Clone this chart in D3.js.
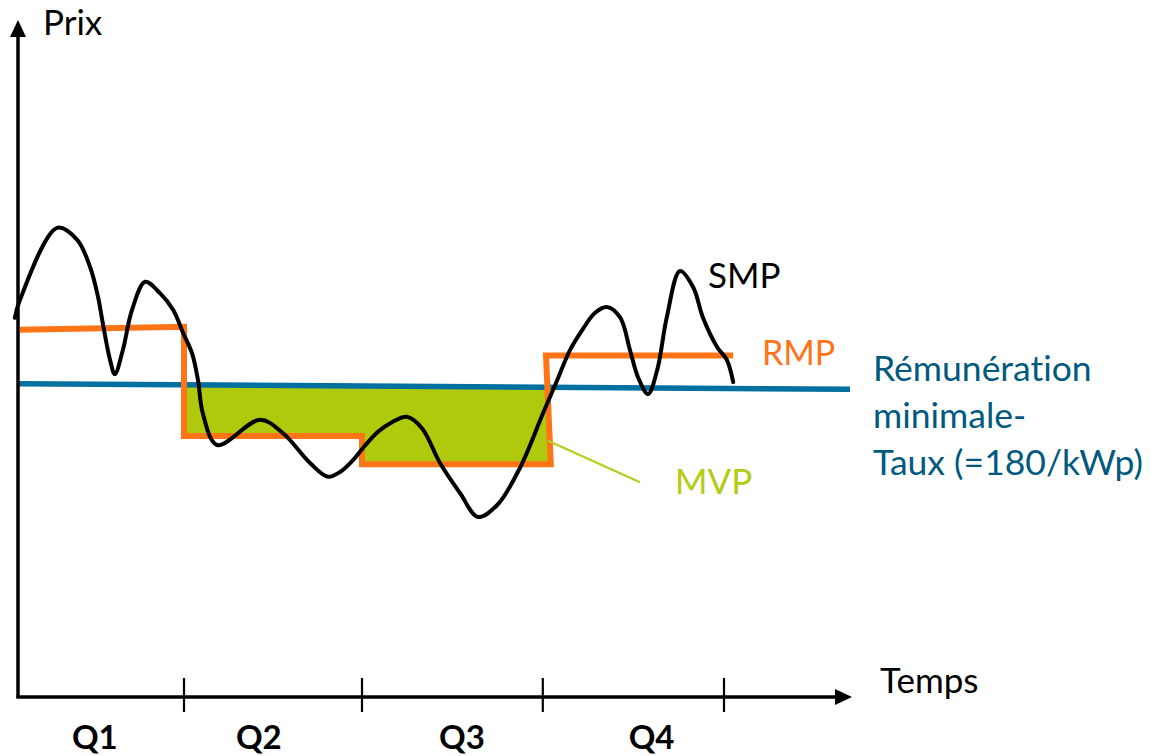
<!DOCTYPE html>
<html><head><meta charset="utf-8">
<script src="https://cdn.jsdelivr.net/npm/d3@7/dist/d3.min.js"></script>
<style>html,body{margin:0;padding:0;background:#fff;}svg{display:block;}text{font-variant-ligatures:none;font-feature-settings:"liga" 0;}</style>
</head><body>
<svg id="chart" width="1151" height="756"></svg>
<script>
// ---- data (time units 0..100, price units 0..100) ----
const quarters = ["Q1", "Q2", "Q3", "Q4"];
const quarterBounds = [0, 20.75, 43, 65.6, 88.25];
const quarterLabelTimes = [9.6, 30.1, 55.5, 79.2];

// SMP (spot market price) curve
const smpTimes  = [-0.4, 0.25, 4.9, 7.4, 9, 10, 10.6, 11.5, 12.1, 13.1, 14.25, 15.9, 17.75, 19.4, 20.6, 21.75, 22.5, 23.1, 24.9, 30.25, 33.1, 36.5, 38.75, 40.25, 41.75, 43.25, 45, 46.75, 48.6, 50.5, 52.75, 55.25, 57.5, 59.9, 62.75, 65.6, 67.4, 69, 70.6, 72.1, 73.6, 75.25, 76.5, 77.5, 78.75, 79.9, 81.1, 82.75, 84.4, 85.6, 87.4, 88.6, 89.4];
const smpValues = [63.2, 66.2, 78.2, 76.2, 71.7, 66.7, 62.3, 56.2, 53.8, 57.8, 64.5, 69.2, 67.3, 64.5, 60.8, 57.3, 52.8, 47.3, 42.0, 46.2, 44.0, 39.0, 36.7, 37.5, 39.3, 41.7, 44.2, 45.8, 46.7, 44.8, 39.0, 34.0, 30.0, 32.0, 38.2, 47.2, 52.8, 57.8, 61.3, 64.0, 65.0, 63.3, 57.8, 53.3, 50.5, 54.5, 63.3, 71.0, 68.3, 63.3, 58.3, 56.2, 52.5];

// RMP (reference market price) step line
const rmpTimes  = [0.25, 20.75, 20.75, 43, 43, 66.6, 66, 89.4];
const rmpValues = [61.2, 61.7, 43.5, 43.5, 38.8, 38.8, 56.9, 56.9];

// minimum remuneration rate line
const minTimes  = [0, 104];
const minValues = [52.2, 51.3];

// MVP area (between minimum rate and RMP)
const mvpTimes  = [20.75, 43, 43, 66.3];
const mvpLow    = [43.5, 43.5, 38.8, 38.8];

// ---- layout ----
const svg = d3.select("#chart");
const x = d3.scaleLinear().domain([0, 100]).range([18, 818]);
const y = d3.scaleLinear().domain([0, 100]).range([697, 97]);
const minAt = t => minValues[0] + (minValues[1] - minValues[0]) * (t - minTimes[0]) / (minTimes[1] - minTimes[0]);

const FONT = "Lato, 'Open Sans', sans-serif";
const COL_BLUE = "#0070a0", COL_ORANGE = "#ff7417", COL_GREEN = "#afc90c", COL_TEXT = "#00597e";

// MVP fill
const mvpData = mvpTimes.map((t, i) => ({t, lo: mvpLow[i], hi: minAt(t)}));
svg.append("path")
  .datum(mvpData)
  .attr("d", d3.area().x(d => x(d.t)).y0(d => y(d.lo)).y1(d => y(d.hi)))
  .attr("fill", COL_GREEN);

// minimum rate line
svg.append("path")
  .datum(minTimes.map((t, i) => [t, minValues[i]]))
  .attr("d", d3.line().x(d => x(d[0])).y(d => y(d[1])))
  .attr("stroke", COL_BLUE).attr("stroke-width", 5.5).attr("fill", "none");

// RMP
svg.append("path")
  .datum(rmpTimes.map((t, i) => [t, rmpValues[i]]))
  .attr("d", d3.line().x(d => x(d[0])).y(d => y(d[1])))
  .attr("stroke", COL_ORANGE).attr("stroke-width", 6).attr("fill", "none")
  .attr("stroke-linejoin", "miter").attr("stroke-linecap", "butt");

// MVP leader
svg.append("line")
  .attr("x1", x(66.25)).attr("y1", y(42.7)).attr("x2", x(77.75)).attr("y2", y(35.8))
  .attr("stroke", "#b5cf1a").attr("stroke-width", 2.2);

// SMP
svg.append("path")
  .datum(smpTimes.map((t, i) => [t, smpValues[i]]))
  .attr("d", d3.line().x(d => x(d[0])).y(d => y(d[1])).curve(d3.curveCatmullRom.alpha(0.5)))
  .attr("stroke", "#000").attr("stroke-width", 4).attr("fill", "none").attr("stroke-linecap", "round");

// axes
const axisG = svg.append("g");
axisG.append("line").attr("x1", x(0)).attr("y1", y(0)).attr("x2", x(0)).attr("y2", 34)
  .attr("stroke", "#000").attr("stroke-width", 3.5);
axisG.append("line").attr("x1", x(0) - 1.75).attr("y1", y(0)).attr("x2", 838).attr("y2", y(0))
  .attr("stroke", "#000").attr("stroke-width", 3.5);
axisG.append("path").attr("d", `M${x(0)},20 L${x(0) - 8},37 L${x(0) + 8},37 Z`).attr("fill", "#000");
axisG.append("path").attr("d", `M852,${y(0)} L835,${y(0) - 8} L835,${y(0) + 8} Z`).attr("fill", "#000");

// quarter ticks
axisG.selectAll(".qtick").data(quarterBounds.slice(1)).enter().append("line")
  .attr("x1", d => x(d)).attr("x2", d => x(d)).attr("y1", y(0) - 19).attr("y2", y(0) + 15)
  .attr("stroke", "#000").attr("stroke-width", 2.2);

axisG.selectAll(".qlab").data(quarters).enter().append("text")
  .attr("x", (d, i) => x(quarterLabelTimes[i])).attr("y", 749)
  .attr("text-anchor", "middle").attr("font-family", FONT).attr("font-weight", "bold")
  .attr("font-size", 33).attr("fill", "#000").text(d => d);

// labels
function label(txt, px, py, color, size) {
  svg.append("text").attr("x", px).attr("y", py).attr("font-family", FONT)
    .attr("font-size", size).attr("fill", color).text(txt);
}
label("Prix", 43, 35, "#000", 35);
label("Temps", 880, 693, "#000", 35);
label("SMP", 708, 288, "#000", 35);
label("RMP", 762, 365, COL_ORANGE, 34);
label("MVP", 675, 494, "#b2cc14", 35);
label("Rémunération", 873, 381, COL_TEXT, 35.5);
label("minimale-", 873, 428, COL_TEXT, 35.5);
label("Taux (=180/kWp)", 873, 475, COL_TEXT, 35.5);
</script>
</body></html>
